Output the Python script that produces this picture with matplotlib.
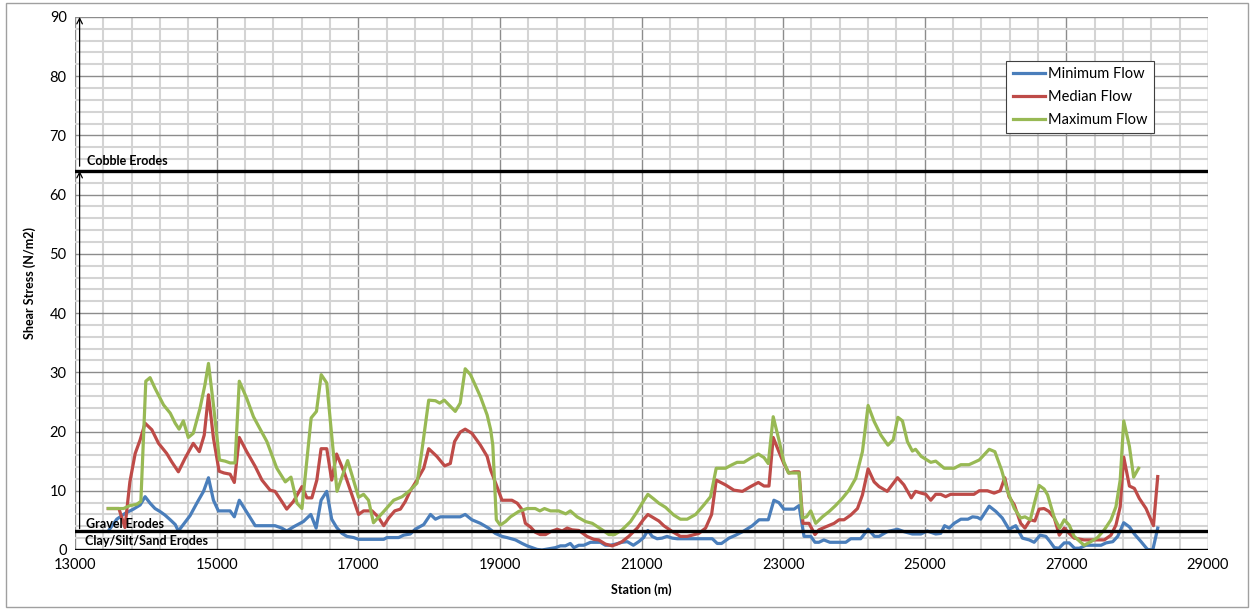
import matplotlib
matplotlib.use('Agg')
import matplotlib.pyplot as plt
import numpy as np
from matplotlib.patches import Rectangle

plt.rcParams['font.family'] = ['Lato', 'DejaVu Sans']

# Minimum flow
min_station = [13470, 13590, 13710, 13825, 13920, 13990, 14060, 14130, 14200, 14270,
               14345, 14415, 14460, 14530, 14625, 14720, 14815, 14885, 14955, 15025,
               15105, 15190, 15250, 15320, 15425, 15545, 15660, 15825, 15920, 15990,
               16085, 16225, 16330, 16405, 16475, 16555, 16625, 16695, 16770, 16840,
               16935, 17005, 17360, 17405, 17570, 17640, 17735, 17805, 17925, 18020,
               18090, 18160, 18440, 18510, 18605, 18725, 18840, 18935, 19030, 19100,
               19220, 19315, 19385, 19455, 19525, 19595, 19690, 19785, 19855, 19925,
               19995, 20045, 20115, 20185, 20280, 20420, 20490, 20560, 20635, 20725,
               20800, 20885, 20960, 21030, 21090, 21150, 21220, 21290, 21360, 21435,
               21505, 22000, 22070, 22130, 22235, 22330, 22445, 22565, 22660, 22790,
               22870, 22940, 23010, 23155, 23225, 23295, 23390, 23450, 23505, 23575,
               23660, 23885, 23955, 24095, 24200, 24290, 24355, 24470, 24615, 24705,
               24825, 24945, 25035, 25155, 25225, 25280, 25345, 25415, 25510, 25610,
               25675, 25745, 25790, 25910, 26005, 26095, 26190, 26285, 26380, 26475,
               26545, 26630, 26710, 26770, 26830, 26895, 26970, 27040, 27115, 27185,
               27275, 27490, 27560, 27655, 27725, 27810, 27890, 27960, 28055, 28145,
               28220, 28290]
min_flow = [3.2, 5.2, 6.2, 6.9, 7.6, 9.0, 7.9, 7.0, 6.5, 5.9,
            5.1, 4.3, 3.2, 4.3, 5.8, 7.9, 9.9, 12.2, 8.4, 6.6,
            6.6, 6.6, 5.6, 8.4, 6.4, 4.1, 4.1, 4.1, 3.7, 3.2,
            3.9, 4.8, 6.0, 3.7, 8.4, 9.9, 5.2, 3.8, 2.8, 2.3,
            2.1, 1.8, 1.8, 2.1, 2.1, 2.5, 2.7, 3.5, 4.3, 6.0,
            5.2, 5.6, 5.6, 6.0, 5.1, 4.5, 3.7, 2.8, 2.3, 2.1,
            1.7, 1.1, 0.7, 0.4, 0.1, 0.0, 0.2, 0.4, 0.7, 0.7,
            1.1, 0.4, 0.8, 0.8, 1.3, 1.3, 0.8, 0.8, 1.0, 1.3,
            1.4, 0.8, 1.4, 2.1, 3.3, 2.3, 1.9, 2.0, 2.3, 2.0,
            1.9, 1.9, 1.1, 1.1, 2.0, 2.5, 3.2, 4.1, 5.1, 5.1,
            8.4, 8.0, 6.9, 6.9, 7.5, 2.3, 2.3, 1.3, 1.3, 1.7,
            1.3, 1.3, 1.9, 1.9, 3.5, 2.3, 2.3, 3.1, 3.5, 3.1,
            2.7, 2.7, 3.2, 2.7, 2.8, 4.1, 3.7, 4.5, 5.2, 5.2,
            5.6, 5.5, 5.2, 7.4, 6.5, 5.4, 3.5, 4.1, 2.0, 1.7,
            1.3, 2.5, 2.3, 1.4, 0.4, 0.3, 1.2, 1.2, 0.3, 0.3,
            0.8, 0.8, 1.2, 1.4, 2.3, 4.6, 3.9, 2.7, 1.4, 0.1,
            0.0, 3.7]

# Median flow
med_station = [13470, 13620, 13705, 13775, 13850, 13920, 13990, 14085, 14180, 14295,
               14365, 14460, 14555, 14670, 14755, 14825, 14885, 14955, 15035, 15105,
               15190, 15250, 15320, 15425, 15545, 15640, 15755, 15825, 15920, 15990,
               16085, 16205, 16275, 16345, 16415, 16475, 16555, 16625, 16695, 16805,
               16910, 17005, 17075, 17195, 17280, 17360, 17430, 17515, 17595, 17665,
               17735, 17830, 17925, 17995, 18110, 18220, 18300, 18360, 18440, 18510,
               18605, 18725, 18820, 18870, 18940, 19030, 19170, 19245, 19315, 19360,
               19430, 19500, 19570, 19645, 19715, 19810, 19880, 19950, 20020, 20115,
               20230, 20325, 20395, 20490, 20585, 20655, 20725, 20820, 20940, 21025,
               21090, 21175, 21245, 21315, 21435, 21550, 21645, 21715, 21810, 21905,
               21990, 22055, 22185, 22305, 22425, 22540, 22650, 22730, 22800, 22860,
               22940, 23010, 23080, 23155, 23225, 23280, 23365, 23450, 23505, 23600,
               23720, 23790, 23860, 23955, 24050, 24120, 24200, 24285, 24355, 24470,
               24615, 24705, 24810, 24870, 24950, 25015, 25085, 25155, 25225, 25295,
               25365, 25695, 25770, 25885, 25980, 26065, 26130, 26190, 26265, 26355,
               26415, 26490, 26555, 26615, 26685, 26755, 26830, 26900, 26970, 27040,
               27110, 27250, 27535, 27630, 27700, 27760, 27810, 27890, 27960, 28030,
               28125, 28230, 28290]
med_flow = [7.0, 7.0, 3.8, 11.5, 16.3, 18.6, 21.4, 20.3, 18.0, 16.3,
            14.9, 13.2, 15.5, 18.0, 16.6, 19.4, 26.2, 18.9, 13.3, 13.0,
            12.8, 11.4, 19.0, 16.6, 14.1, 11.8, 10.1, 9.9, 8.2, 6.9,
            8.2, 10.7, 8.8, 8.8, 11.8, 17.1, 17.1, 11.8, 16.2, 13.0,
            9.3, 6.0, 6.6, 6.6, 5.6, 4.1, 5.4, 6.6, 6.9, 8.2,
            10.0, 11.8, 13.8, 17.1, 15.8, 14.2, 14.6, 18.3, 19.9, 20.4,
            19.7, 17.7, 15.8, 13.5, 11.3, 8.4, 8.4, 7.9, 6.8, 4.5,
            3.9, 3.0, 2.6, 2.6, 3.1, 3.5, 3.2, 3.7, 3.4, 3.3,
            2.3, 1.8, 1.7, 1.0, 0.7, 1.0, 1.4, 2.3, 3.7, 5.1,
            6.0, 5.4, 4.9, 4.1, 3.1, 2.3, 2.3, 2.5, 2.8, 3.7,
            6.0, 11.8, 11.0, 10.1, 9.9, 10.7, 11.4, 10.8, 10.8, 19.0,
            16.6, 14.6, 13.0, 13.2, 13.2, 4.5, 4.5, 2.6, 3.4, 3.9,
            4.5, 5.1, 5.1, 5.9, 7.0, 9.3, 13.7, 11.5, 10.7, 9.9,
            12.2, 11.0, 8.8, 9.9, 9.6, 9.4, 8.4, 9.4, 9.4, 9.0,
            9.4, 9.4, 10.0, 10.0, 9.6, 10.0, 12.2, 9.0, 7.6, 4.5,
            3.7, 5.1, 4.9, 6.9, 7.0, 6.5, 5.4, 2.5, 3.7, 2.8,
            2.0, 1.7, 1.7, 2.5, 4.2, 7.3, 15.7, 10.8, 10.4, 8.7,
            7.0, 4.1, 12.4]

# Maximum flow
max_station = [13470, 13685, 13775, 13870, 13930, 14000, 14060, 14130, 14250, 14345,
               14415, 14470, 14530, 14600, 14670, 14765, 14835, 14885, 14955, 15040,
               15120, 15190, 15260, 15320, 15425, 15520, 15660, 15710, 15850, 15970,
               16050, 16135, 16205, 16335, 16410, 16477, 16555, 16700, 16850, 17005,
               17075, 17145, 17215, 17360, 17500, 17620, 17735, 17830, 17890, 17995,
               18090, 18150, 18215, 18370, 18440, 18510, 18585, 18725, 18820, 18870,
               18900, 18950, 19005, 19080, 19150, 19265, 19385, 19500, 19565, 19630,
               19715, 19830, 19930, 19995, 20090, 20210, 20305, 20445, 20540, 20620,
               20725, 20845, 20940, 21025, 21090, 21175, 21245, 21340, 21455, 21550,
               21645, 21765, 21880, 21975, 22055, 22185, 22280, 22350, 22445, 22540,
               22650, 22730, 22790, 22860, 22940, 23010, 23075, 23225, 23270, 23330,
               23390, 23460, 23555, 23650, 23740, 23835, 23930, 24025, 24120, 24200,
               24285, 24380, 24480, 24555, 24620, 24685, 24755, 24825, 24870, 24950,
               25085, 25155, 25275, 25415, 25510, 25625, 25770, 25910, 25990, 26085,
               26170, 26265, 26355, 26415, 26490, 26555, 26615, 26685, 26735, 26830,
               26905, 26970, 27040, 27110, 27250, 27345, 27440, 27535, 27630, 27700,
               27760, 27810, 27890, 27950, 28020]
max_flow = [7.0, 7.0, 7.5, 7.7, 8.2, 28.5, 29.1, 27.3, 24.5, 23.1,
            21.4, 20.4, 21.8, 19.0, 19.7, 23.9, 27.9, 31.5, 24.5, 15.2,
            15.0, 14.7, 14.7, 28.5, 25.6, 22.5, 19.4, 18.3, 13.8, 11.5,
            12.3, 7.9, 7.0, 22.3, 23.4, 29.6, 28.2, 9.9, 15.1, 8.9,
            9.4, 8.4, 4.6, 6.5, 8.4, 9.0, 10.1, 11.3, 16.0, 25.3,
            25.2, 24.8, 25.3, 23.4, 24.8, 30.6, 29.6, 25.9, 22.8, 20.3,
            17.7, 5.1, 4.2, 4.8, 5.6, 6.5, 7.0, 7.0, 6.6, 7.0,
            6.6, 6.6, 6.1, 6.6, 5.6, 4.8, 4.5, 3.4, 2.6, 2.6,
            3.4, 4.8, 6.5, 8.2, 9.4, 8.6, 7.9, 7.2, 5.9, 5.2,
            5.2, 6.0, 7.6, 9.0, 13.8, 13.8, 14.4, 14.8, 14.8, 15.5,
            16.2, 15.6, 14.6, 22.5, 18.6, 14.9, 13.0, 13.0, 5.4, 5.6,
            6.6, 4.5, 5.6, 6.5, 7.5, 8.7, 10.1, 12.1, 16.6, 24.4,
            21.7, 19.4, 17.7, 18.6, 22.4, 21.8, 18.3, 16.7, 17.0, 15.8,
            14.8, 15.0, 13.8, 13.8, 14.4, 14.4, 15.2, 17.0, 16.6, 13.5,
            9.9, 7.0, 5.4, 5.6, 5.1, 8.2, 10.9, 10.3, 9.3, 5.4,
            3.7, 5.1, 4.2, 2.3, 0.8, 1.4, 2.1, 3.4, 5.1, 7.3,
            11.8, 21.8, 17.5, 12.3, 13.8]

thresholds = [0, 3.2, 64]
threshold_labels = ['Clay/Silt/Sand Erodes', 'Gravel Erodes', 'Cobble Erodes']

fig = plt.figure(figsize=(12.5, 6.09), dpi=100)
ax = fig.add_axes([0.06, 0.0969, 0.9064, 0.8753])

ax.set_xlim(13000, 29000)
ax.set_ylim(0, 90)
ax.set_xticks(np.arange(13000, 29001, 2000))
ax.set_xticks(np.arange(13000, 29001, 400), minor=True)
ax.set_yticks(np.arange(0, 91, 10))
ax.set_yticks(np.arange(0, 91, 2), minor=True)
ax.grid(which='minor', color='#d4d4d4', linewidth=1.5)
ax.grid(which='major', color='#8c8c8c', linewidth=1.0)
ax.set_axisbelow(True)
for s in ax.spines.values():
    s.set_visible(False)
ax.tick_params(which='both', length=0, labelsize=10.5, pad=6)

for t in thresholds:
    ax.axhline(t, color='black', linewidth=2.4, zorder=4)

ax.plot(min_station, min_flow, color='#4a7ebb', linewidth=2.3, label='Minimum Flow', zorder=3)
ax.plot(med_station, med_flow, color='#be4b48', linewidth=2.3, label='Median Flow', zorder=3)
ax.plot(max_station, max_flow, color='#98b954', linewidth=2.3, label='Maximum Flow', zorder=3)

# arrows showing erosion ranges
ax.annotate('', xy=(13065, 64), xytext=(13065, 3.6),
            arrowprops=dict(arrowstyle='->', color='black', lw=0.9, shrinkA=0, shrinkB=0),
            zorder=5)
ax.annotate('', xy=(13065, 90), xytext=(13065, 64.8),
            arrowprops=dict(arrowstyle='->', color='black', lw=0.9, shrinkA=0, shrinkB=0),
            zorder=5)

ax.text(13170, 64.7, threshold_labels[2], fontsize=9, fontweight='bold', va='bottom')
ax.text(13150, 3.3, threshold_labels[1], fontsize=9, fontweight='bold', va='bottom')
ax.text(13140, 1.55, threshold_labels[0], fontsize=9, fontweight='bold', va='center')

ax.set_xlabel('Station (m)', fontsize=9, fontweight='bold', labelpad=8)
ax.set_ylabel('Shear Stress (N/m2)', fontsize=9, fontweight='bold', labelpad=10)

leg = ax.legend(loc='upper left', bbox_to_anchor=(0.822, 0.918), fontsize=10.5,
                frameon=True, fancybox=False, framealpha=1, edgecolor='#404040',
                handlelength=2.2, handletextpad=0.2, borderpad=0.45, labelspacing=0.6,
                borderaxespad=0)
leg.get_frame().set_linewidth(0.8)

fig.patches.append(Rectangle((0.005, 0.004), 0.993, 0.991, transform=fig.transFigure,
                             fill=False, edgecolor='#a0a0a0', linewidth=1.0))

fig.savefig('out.png', dpi=100)
